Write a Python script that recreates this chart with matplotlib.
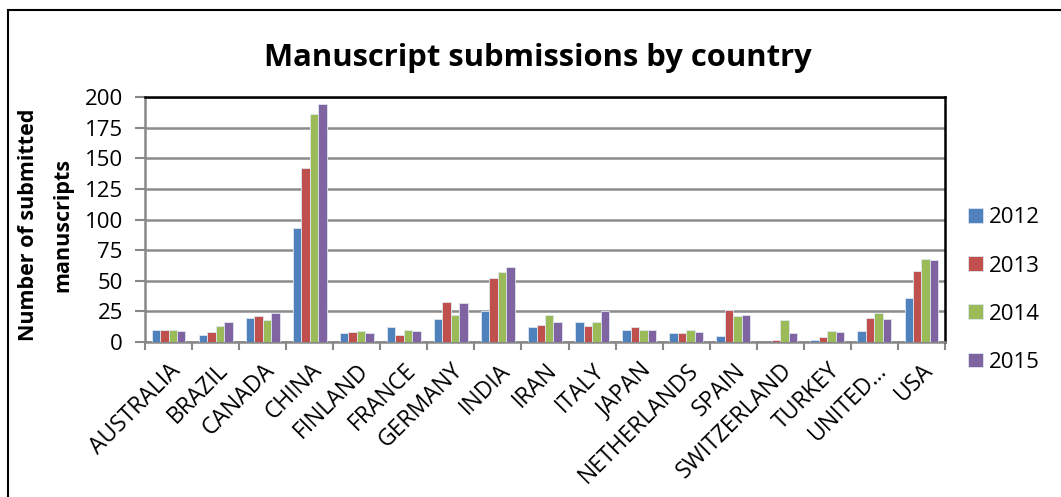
import matplotlib.pyplot as plt
import numpy as np
from matplotlib.patches import Rectangle

countries = ['AUSTRALIA', 'BRAZIL', 'CANADA', 'CHINA', 'FINLAND', 'FRANCE',
             'GERMANY', 'INDIA', 'IRAN', 'ITALY', 'JAPAN', 'NETHERLANDS',
             'SPAIN', 'SWITZERLAND', 'TURKEY', 'UNITED…', 'USA']
years = ['2012', '2013', '2014', '2015']
s2012 = [10, 6, 20, 93, 7, 12, 19, 25, 12, 16, 10, 7, 5, 0, 2, 9, 36]
s2013 = [10, 8, 21, 142, 8, 6, 33, 52, 14, 13, 12, 7, 26, 2, 4, 20, 58]
s2014 = [10, 13, 18, 186, 9, 10, 22, 57, 22, 16, 10, 10, 21, 18, 9, 24, 68]
s2015 = [9, 16, 24, 194, 7, 9, 32, 61, 16, 25, 10, 8, 22, 7, 8, 19, 67]
colors = ['#4F81BD', '#C0504D', '#9BBB59', '#8064A2']

plt.rcParams['font.family'] = ['Open Sans', 'DejaVu Sans']

fig = plt.figure(figsize=(10.61, 4.97), dpi=100)
# outer chart border (right and bottom edges fall outside the picture)
fig.patches.append(Rectangle((8 / 1061, -0.1), 1.2, 1.1 - 10 / 497,
                             transform=fig.transFigure, fill=False,
                             edgecolor='black', linewidth=1.5))
ax = fig.add_axes([145 / 1061, 1 - 342 / 497, 800 / 1061, 245 / 497])

x = np.arange(len(countries))
w = 0.18
for i, (vals, c, lab) in enumerate(zip([s2012, s2013, s2014, s2015], colors, years)):
    ax.bar(x + (i - 1.5) * w, vals, w, color=c, edgecolor='#dde6f0',
           linewidth=0.6, label=lab, zorder=3)

ax.set_xlim(-0.5, len(countries) - 0.5)
ax.set_ylim(0, 200)
ax.set_yticks(np.arange(0, 201, 25))
ax.tick_params(axis='y', labelsize=16, length=7, color='#888888', width=1.5, pad=9)
ax.grid(axis='y', color='#8c8c8c', linewidth=1.8, zorder=0)

ax.set_xticks(x)
ax.set_xticklabels(countries, rotation=45, ha='right', rotation_mode='anchor',
                   fontsize=16.5)
ax.tick_params(axis='x', which='major', length=0, pad=12)
ax.set_xticks(np.arange(-0.5, len(countries), 1), minor=True)
ax.tick_params(axis='x', which='minor', length=6, color='#888888', width=1.5)

for s in ['left', 'bottom']:
    ax.spines[s].set_color('#888888')
    ax.spines[s].set_linewidth(1.8)
for s in ['top', 'right']:
    ax.spines[s].set_color('black')
    ax.spines[s].set_linewidth(1.8)

fig.text(29 / 1061, 1 - 225 / 497, 'Number of submitted', rotation=90,
         ha='center', va='center', fontsize=15.5, fontweight='bold')
fig.text(63 / 1061, 1 - 225 / 497, 'manuscripts', rotation=90,
         ha='center', va='center', fontsize=15.5, fontweight='bold')

fig.text(538 / 1061, 1 - 58 / 497, 'Manuscript submissions by country',
         ha='center', va='center', fontsize=22.3, fontweight='bold')

leg = ax.legend(loc='center left', bbox_to_anchor=(1.029, 0.212), frameon=False,
                fontsize=16, handlelength=0.65, handleheight=0.65,
                handletextpad=0.3, labelspacing=1.22, borderpad=0,
                borderaxespad=0)

fig.savefig('out.png', dpi=100)
